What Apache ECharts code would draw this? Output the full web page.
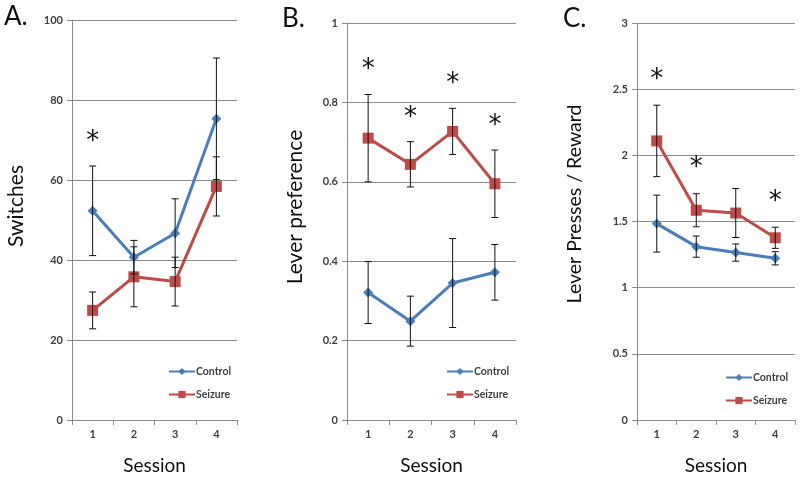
<!DOCTYPE html>
<html><head><meta charset="utf-8">
<script src="https://cdn.jsdelivr.net/npm/echarts@6/dist/echarts.min.js"></script>
<style>html,body{margin:0;padding:0;background:#fff}#c{width:800px;height:480px}</style>
</head><body><div id="c"></div>
<script>
const sessions = ['1','2','3','4'];
// Panel A: Switches
const aControl = [52.3, 40.7, 46.7, 75.3];
const aControlErr = [11.2, 4.2, 8.6, 15.2];
const aSeizure = [27.4, 35.8, 34.6, 58.4];
const aSeizureErr = [4.6, 7.5, 6.1, 7.4];
const aStars = [[0, 71]];
// Panel B: Lever preference
const bControl = [0.321, 0.249, 0.345, 0.372];
const bControlErr = [0.078, 0.063, 0.112, 0.07];
const bSeizure = [0.710, 0.644, 0.727, 0.595];
const bSeizureErr = [0.11, 0.057, 0.058, 0.085];
const bStars = [[0, 0.897], [1, 0.776], [2, 0.861], [3, 0.756]];
// Panel C: Lever presses / reward
const cControl = [1.484, 1.31, 1.265, 1.222];
const cControlErr = [0.215, 0.08, 0.065, 0.05];
const cSeizure = [2.109, 1.585, 1.564, 1.377];
const cSeizureErr = [0.27, 0.125, 0.185, 0.08];
const cStars = [[0, 2.61], [1, 1.95], [3, 1.69]];

const yTitles = ['Switches', 'Lever preference', 'Lever Presses / Reward'];
const panelLetters = ['A.', 'B.', 'C.'];

const FONT = 'Lato';
const BLUE = '#4a7ebb';
const RED = '#be4b48';
const GRID = '#8c8c8c';
const TXT = '#404040';

const grids = [
  {left: 72, top: 20, width: 165, height: 405},
  {left: 347, top: 23, width: 169, height: 401},
  {left: 637, top: 23, width: 158, height: 401}
];
const yCfg = [
  {min: 0, max: 100, interval: 20},
  {min: 0, max: 1, interval: 0.2},
  {min: 0, max: 3, interval: 0.5}
];

function errData(vals, errs) { return vals.map((v, i) => [i, v - errs[i], v + errs[i]]); }
function errRender(params, api) {
  const x = api.value(0);
  const lo = api.coord([x, api.value(1)]);
  const hi = api.coord([x, api.value(2)]);
  const w = 3.5;
  const st = {stroke: '#111', lineWidth: 1};
  return {type: 'group', children: [
    {type: 'line', shape: {x1: lo[0], y1: lo[1], x2: hi[0], y2: hi[1]}, style: st},
    {type: 'line', shape: {x1: lo[0]-w, y1: lo[1], x2: lo[0]+w, y2: lo[1]}, style: st},
    {type: 'line', shape: {x1: hi[0]-w, y1: hi[1], x2: hi[0]+w, y2: hi[1]}, style: st}
  ]};
}
function starRender(params, api) {
  const p = api.coord([api.value(0), api.value(1)]);
  return {type: 'text', x: p[0], y: p[1] + 6, style: {text: '*', font: '26px DejaVu Sans', fill: '#111', align: 'center', verticalAlign: 'middle'}};
}

const panels = [
  [aControl, aControlErr, aSeizure, aSeizureErr, aStars],
  [bControl, bControlErr, bSeizure, bSeizureErr, bStars],
  [cControl, cControlErr, cSeizure, cSeizureErr, cStars]
];

const xAxis = [], yAxis = [], series = [], legend = [];
const legendPos = [{left: 163, top: 361}, {left: 441, top: 361}, {left: 720, top: 367}];
panels.forEach((p, g) => {
  xAxis.push({type: 'category', gridIndex: g, data: sessions, boundaryGap: true,
    name: 'Session', nameLocation: 'middle', nameGap: 36,
    nameTextStyle: {fontFamily: FONT, fontSize: 19, color: '#111'},
    axisLine: {lineStyle: {color: GRID}}, axisTick: {show: true, length: 5, lineStyle: {color: GRID}},
    axisLabel: {fontFamily: FONT, fontSize: 11, fontWeight: 'bold', color: TXT, margin: 9},
    splitLine: {show: false}});
  yAxis.push({type: 'value', gridIndex: g, min: yCfg[g].min, max: yCfg[g].max, interval: yCfg[g].interval,
    axisLine: {show: true, lineStyle: {color: GRID}}, axisTick: {show: true, length: 5, lineStyle: {color: GRID}},
    axisLabel: {fontFamily: FONT, fontSize: 11, fontWeight: 'bold', color: TXT, margin: 9},
    splitLine: {show: true, lineStyle: {color: GRID, width: 1}}});
  series.push({name: 'Control', type: 'line', xAxisIndex: g, yAxisIndex: g, data: p[0],
    symbol: 'diamond', symbolSize: 10, lineStyle: {color: BLUE, width: 3}, itemStyle: {color: BLUE}, z: 3});
  series.push({name: 'Seizure', type: 'line', xAxisIndex: g, yAxisIndex: g, data: p[2],
    symbol: 'rect', symbolSize: 11, lineStyle: {color: RED, width: 3}, itemStyle: {color: RED}, z: 3});
  series.push({type: 'custom', xAxisIndex: g, yAxisIndex: g, data: errData(p[0], p[1]), renderItem: errRender, z: 5, silent: true});
  series.push({type: 'custom', xAxisIndex: g, yAxisIndex: g, data: errData(p[2], p[3]), renderItem: errRender, z: 5, silent: true});
  series.push({type: 'custom', xAxisIndex: g, yAxisIndex: g, data: p[4], renderItem: starRender, z: 6, silent: true});
  legend.push(Object.assign({orient: 'vertical', data: ['Control', 'Seizure'], itemWidth: 26, itemHeight: 9, itemGap: 12,
    textStyle: {fontFamily: FONT, fontSize: 10.5, fontWeight: 'bold', color: TXT, padding: [0,0,0,-4]}, selectedMode: false}, legendPos[g]));
});

const titlePos = [[16, 206, 21], [295, 207, 21], [575, 204, 19.5]];
const graphic = [
  {type: 'text', left: 4, top: 4, style: {text: panelLetters[0], font: '26px Lato', fill: '#111'}},
  {type: 'text', left: 282, top: 6, style: {text: panelLetters[1], font: '26px Lato', fill: '#111'}},
  {type: 'text', left: 563, top: 6, style: {text: panelLetters[2], font: '26px Lato', fill: '#111'}}
];
titlePos.forEach((t, i) => {
  graphic.push({type: 'text', x: t[0], y: t[1], rotation: Math.PI / 2,
    style: {text: yTitles[i], font: t[2] + 'px Lato', fill: '#111', align: 'center', verticalAlign: 'middle'}});
});

const chart = echarts.init(document.getElementById('c'), null, {renderer: 'canvas'});
chart.setOption({
  animation: false,
  backgroundColor: '#fff',
  grid: grids,
  xAxis, yAxis, series, legend, graphic
});
</script></body></html>
